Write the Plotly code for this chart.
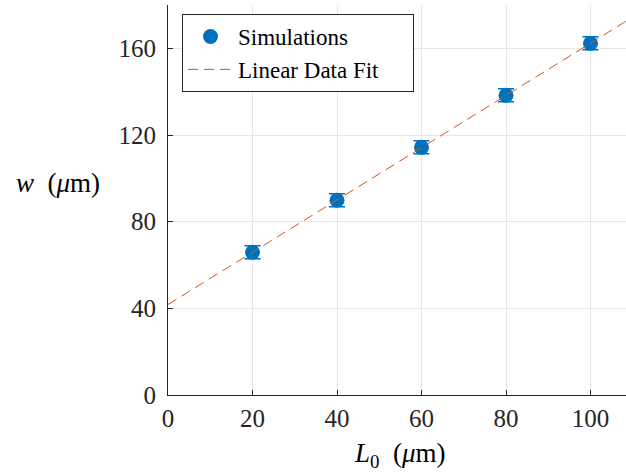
import numpy as np
import plotly.graph_objects as go

L0 = [20, 40, 60, 80, 100]
w = [65.9, 89.9, 114.3, 138.3, 162.3]
w_err = [3.0, 3.0, 3.0, 3.0, 3.0]
x_ticks = [0, 20, 40, 60, 80, 100]
y_ticks = [0, 40, 80, 120, 160]

slope, intercept = np.polyfit(L0, w, 1)
x_fit = [0, 110]
y_fit = [intercept + slope * x for x in x_fit]

font = "Liberation Serif, Times New Roman, serif"
fig = go.Figure()
fig.add_trace(go.Scatter(
    x=L0, y=w, mode="markers", name="Simulations",
    marker=dict(color="#0072BD", size=15),
    error_y=dict(type="data", array=w_err, color="#0072BD", thickness=1.5, width=8),
))
fig.add_trace(go.Scatter(
    x=x_fit, y=y_fit, mode="lines", name="Linear Data Fit" + "\u00a0" * 5,
    line=dict(color="#D95319", width=1, dash="10px,6px"),
))

axis_common = dict(
    showgrid=True, gridcolor="#E6E6E6", gridwidth=1,
    showline=True, linecolor="#262626", linewidth=1,
    ticks="inside", ticklen=5, tickcolor="#262626",
    tickfont=dict(family=font, size=25, color="#262626"),
    zeroline=False, mirror=False,
)
fig.update_layout(
    width=626, height=474,
    margin=dict(l=168, r=0, t=5, b=79),
    paper_bgcolor="white", plot_bgcolor="white",
    font=dict(family=font, color="#262626"),
    showlegend=True,
    legend=dict(
        x=(182-168)/458, y=(395-14)/390, xanchor="left", yanchor="top",
        bgcolor="white", bordercolor="#262626", borderwidth=1,
        font=dict(family=font, size=23, color="black"),
        tracegroupgap=0, itemwidth=45,
    ),
    xaxis=dict(range=[0, 108.4], tickvals=x_ticks, ticklabelstandoff=1, **axis_common),
    yaxis=dict(range=[0, 180], tickvals=y_ticks, ticklabelstandoff=6, **axis_common),
    annotations=[
        dict(text="<i>w</i>  (<i>μ</i>m)", x=(58-168)/458, y=(395-183)/390, xref="paper", yref="paper",
             xanchor="center", yanchor="middle",
             showarrow=False, font=dict(family=font, size=27, color="black")),
        dict(text="<i>L</i><sub>0</sub>  (<i>μ</i>m)", x=(400-168)/458, y=-(474-395)/390,
             xref="paper", yref="paper", xanchor="center", yanchor="bottom",
             showarrow=False,
             font=dict(family=font, size=27, color="black")),
    ],
)
fig.write_html("out.html")
